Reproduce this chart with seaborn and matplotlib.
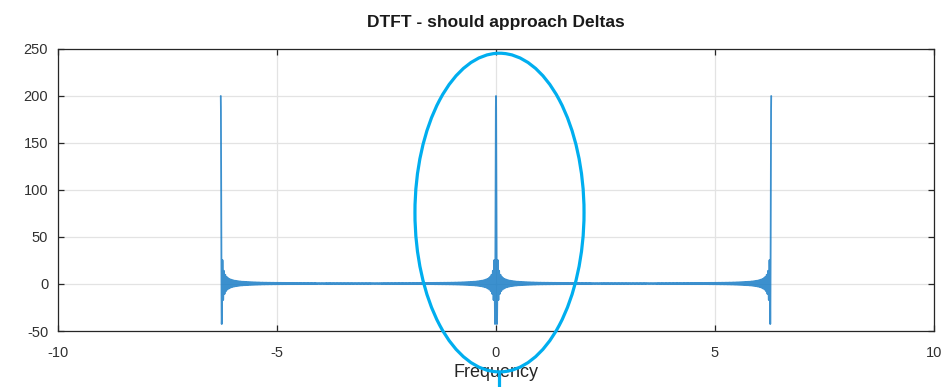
import numpy as np
import matplotlib
matplotlib.use("Agg")
import matplotlib.pyplot as plt
from matplotlib.patches import Ellipse
from matplotlib.lines import Line2D
import seaborn as sns

# Time-domain signal: a rectangular pulse of 200 ones
signal = np.ones(200)
# Frequency grid over two periods of the DTFT
freq_min, freq_max, n_freq = -2 * np.pi, 2 * np.pi, 4001

n = np.arange(len(signal))
w = np.linspace(freq_min, freq_max, n_freq)
X = np.exp(-1j * np.outer(w, n)) @ signal
spectrum = np.real(X)

sns.set_theme(style="white")
plt.rcParams["font.family"] = ["Liberation Sans", "DejaVu Sans"]
plt.rcParams["axes.unicode_minus"] = False

fig = plt.figure(figsize=(9.47, 3.87), dpi=100)
ax = fig.add_axes([0.0612, 0.1447, 0.9251, 0.7287])

sns.lineplot(x=w, y=spectrum, ax=ax, color="#1a7dc6", linewidth=1.3,
             alpha=0.85, estimator=None, sort=False)

ax.set_xlim(-10, 10)
ax.set_ylim(-50, 250)
ax.set_xticks([-10, -5, 0, 5, 10])
ax.set_yticks([-50, 0, 50, 100, 150, 200, 250])
ax.grid(True, color="#e3e3e3", linewidth=0.9)
ax.set_axisbelow(True)

for side in ["top", "bottom", "left", "right"]:
    ax.spines[side].set_visible(True)
    ax.spines[side].set_color("#262626")
    ax.spines[side].set_linewidth(0.9)

ax.tick_params(direction="in", length=4, width=0.9, color="#262626",
               labelsize=10.5, labelcolor="#303030",
               top=True, right=True, bottom=True, left=True)
ax.tick_params(axis="x", pad=11)
ax.tick_params(axis="y", pad=7)

ax.set_xlabel("Frequency", fontsize=13, color="#262626", labelpad=3)
ax.set_title("DTFT - should approach Deltas", fontsize=12.5,
             fontweight="bold", color="#1a1a1a", pad=16)

# Highlight around the central peak
ell = Ellipse((0.08, 76), width=3.86, height=339, fill=False,
              edgecolor="#00AEEF", linewidth=2.3, clip_on=False, zorder=5)
ax.add_patch(ell)
fig.add_artist(Line2D([499 / 947, 499 / 947], [15 / 387, 0], color="#00AEEF",
                      linewidth=2.3))

fig.savefig("out.png", dpi=100)
